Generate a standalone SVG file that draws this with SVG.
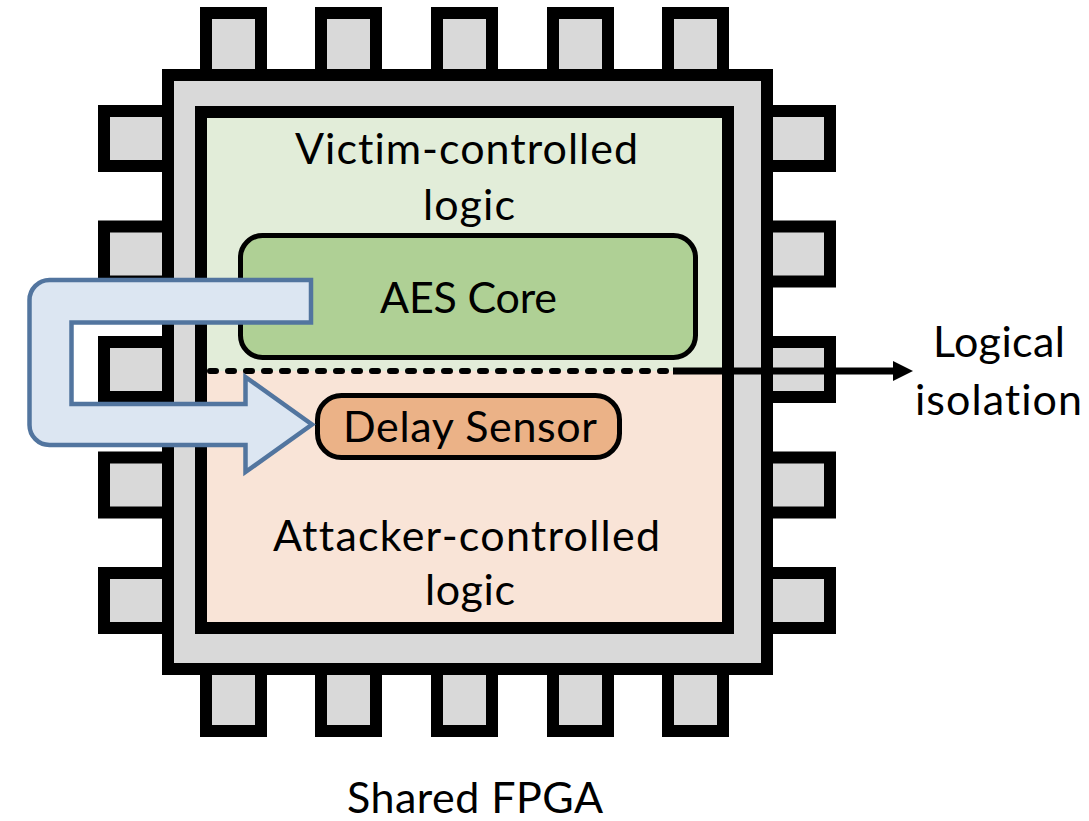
<svg xmlns="http://www.w3.org/2000/svg" width="1089" height="821" viewBox="0 0 1089 821">
  <style>
    .pin { fill: #d9d9d9; stroke: #000; stroke-width: 12; }
    .lbl { font-family: Lato, "Open Sans", "Liberation Sans", sans-serif; font-size: 43px; fill: #000; font-variant-ligatures: none; font-feature-settings: "liga" 0, "clig" 0; }
  </style>
  <defs>
    <marker id="head" viewBox="0 0 20 20" markerWidth="20" markerHeight="20" refX="0" refY="10" markerUnits="userSpaceOnUse" orient="auto">
      <path d="M0,0 L20,10 L0,20 Z" fill="#000"/>
    </marker>
  </defs>
  <rect x="0" y="0" width="1089" height="821" fill="#fff"/>

  <g id="fpga">
    <g id="pins">
      <rect class="pin" x="206" y="13" width="55" height="62"/>
      <rect class="pin" x="321" y="13" width="55" height="62"/>
      <rect class="pin" x="437" y="13" width="55" height="62"/>
      <rect class="pin" x="553" y="13" width="55" height="62"/>
      <rect class="pin" x="668" y="13" width="55" height="62"/>
      <rect class="pin" x="206" y="669" width="55" height="62"/>
      <rect class="pin" x="321" y="669" width="55" height="62"/>
      <rect class="pin" x="437" y="669" width="55" height="62"/>
      <rect class="pin" x="553" y="669" width="55" height="62"/>
      <rect class="pin" x="668" y="669" width="55" height="62"/>
      <rect class="pin" x="104" y="111" width="64" height="55"/>
      <rect class="pin" x="104" y="226.5" width="64" height="55"/>
      <rect class="pin" x="104" y="342" width="64" height="55"/>
      <rect class="pin" x="104" y="457.5" width="64" height="55"/>
      <rect class="pin" x="104" y="573" width="64" height="55"/>
      <rect class="pin" x="767" y="111" width="63" height="55"/>
      <rect class="pin" x="767" y="226.5" width="63" height="55"/>
      <rect class="pin" x="767" y="342" width="63" height="55"/>
      <rect class="pin" x="767" y="457.5" width="63" height="55"/>
      <rect class="pin" x="767" y="573" width="63" height="55"/>
    </g>
    <rect id="package" x="168" y="75" width="599" height="594" fill="#d9d9d9" stroke="#000" stroke-width="12"/>
  </g>

  <g id="die">
    <rect x="201" y="112" width="527" height="259" fill="#e2edd9"/>
    <rect x="201" y="371" width="527" height="257" fill="#f9e4d7"/>
    <rect x="201" y="112" width="527" height="516" fill="none" stroke="#000" stroke-width="12"/>
  </g>

  <g id="victim-region">
    <text class="lbl" x="295" y="164" textLength="343">Victim-controlled</text>
    <text class="lbl" x="423" y="220" textLength="92">logic</text>
  </g>

  <g id="attacker-region">
    <text class="lbl" x="273" y="551" textLength="387">Attacker-controlled</text>
    <text class="lbl" x="425" y="605" textLength="90">logic</text>
  </g>

  <g id="aes-core">
    <rect x="240.5" y="235.5" width="455" height="122" rx="22" fill="#afd095" stroke="#000" stroke-width="5"/>
    <text class="lbl" x="380" y="313" textLength="177">AES Core</text>
  </g>

  <g id="delay-sensor">
    <rect x="317.5" y="395.5" width="302" height="62" rx="24" fill="#ebb287" stroke="#000" stroke-width="5"/>
    <text class="lbl" x="343" y="442" textLength="254">Delay Sensor</text>
  </g>

  <g id="connectors">
    <line x1="210" y1="371" x2="668" y2="371" stroke="#000" stroke-width="6" stroke-linecap="round" stroke-dasharray="6 12"/>
    <line x1="673" y1="371" x2="893" y2="371" stroke="#000" stroke-width="7" marker-end="url(#head)"/>
    <path id="leak-arrow" d="M311,280 L311,322.5 L71.5,322.5 L71.5,404 L245.5,404 L245.5,377 L312,424.5 L245.5,472 L245.5,445 L49.5,445 A20,20 0 0 1 29.5,425 L29.5,300 A20,20 0 0 1 49.5,280 Z" fill="#dce6f2" stroke="#52759f" stroke-width="4.5" stroke-linejoin="miter"/>
  </g>

  <g id="isolation-label">
    <text class="lbl" x="933" y="357" textLength="132">Logical</text>
    <text class="lbl" x="915" y="415" textLength="167">isolation</text>
  </g>

  <g id="caption">
    <text class="lbl" x="347" y="813" textLength="256">Shared FPGA</text>
  </g>
</svg>
